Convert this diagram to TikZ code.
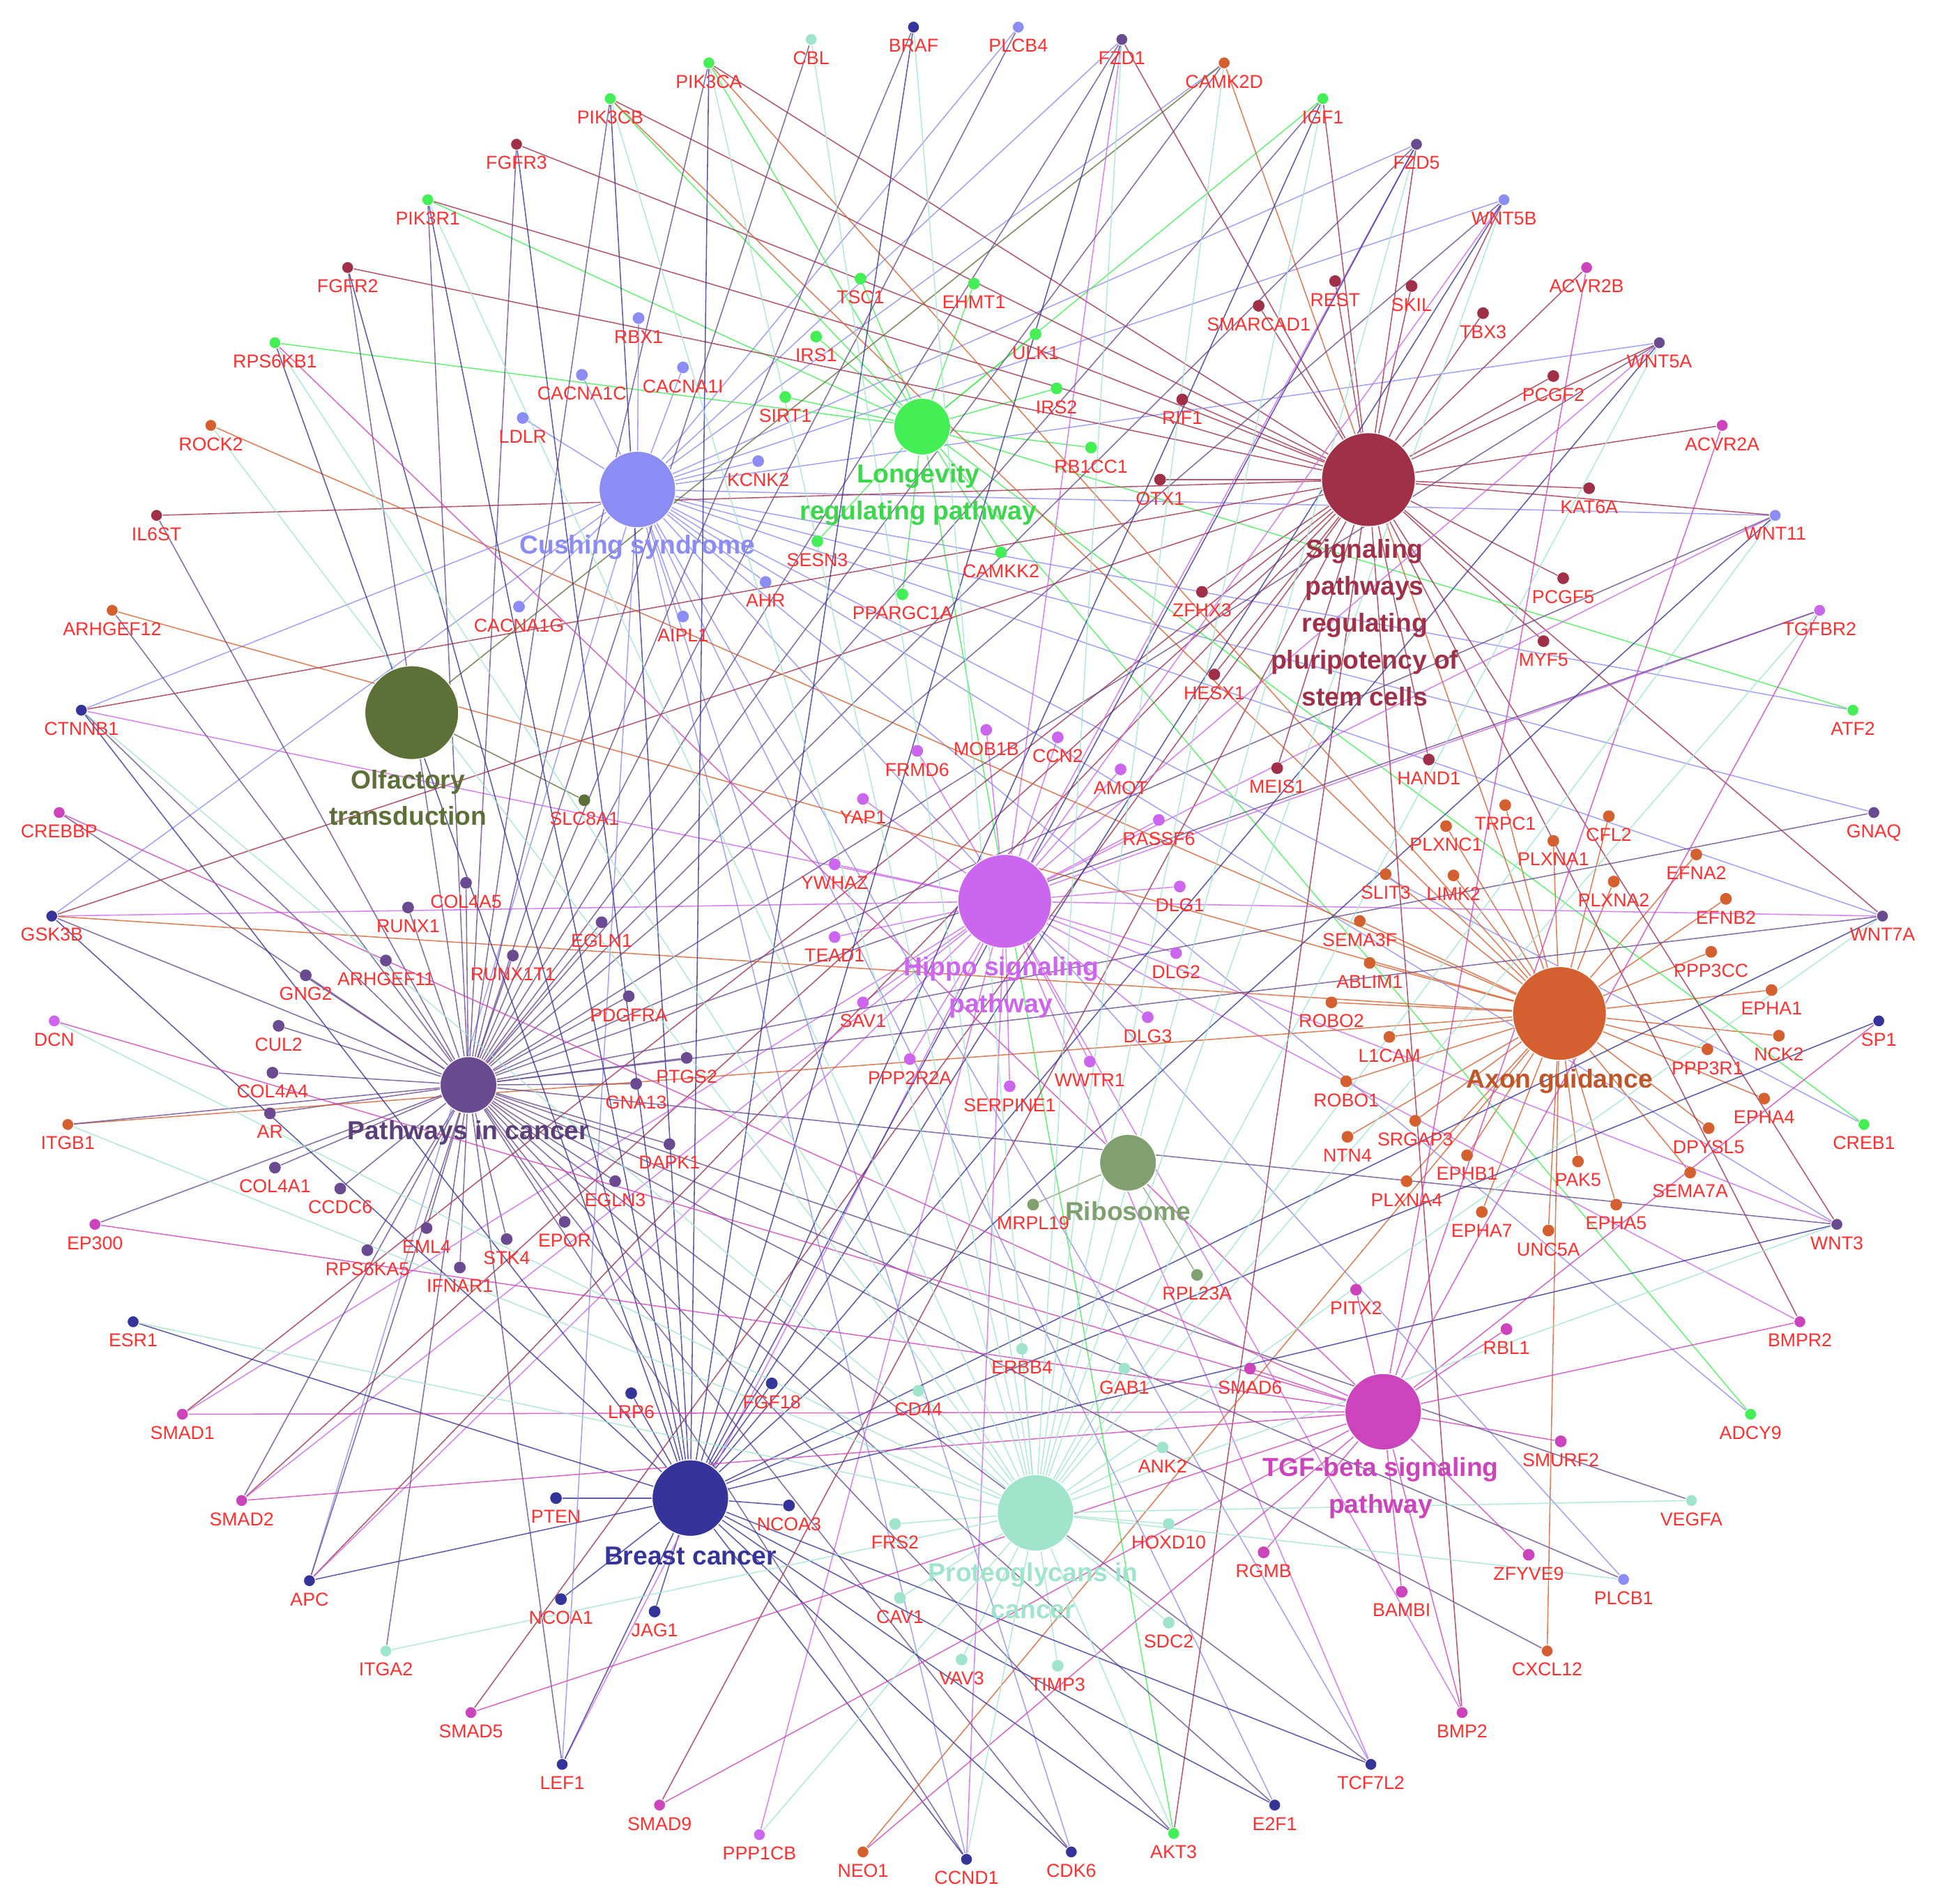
\documentclass[tikz,border=0pt]{standalone}
\usepackage{fontspec}
\setmainfont{Liberation Sans}
\pgfdeclarelayer{bg}
\pgfsetlayers{bg,main}
\definecolor{cushC}{HTML}{8C8CF5}
\definecolor{longC}{HTML}{44EE55}
\definecolor{pluriC}{HTML}{A03048}
\definecolor{olfC}{HTML}{5C7038}
\definecolor{hippoC}{HTML}{CC66EE}
\definecolor{axonC}{HTML}{D4602F}
\definecolor{cancC}{HTML}{6A4A90}
\definecolor{riboC}{HTML}{80A070}
\definecolor{tgfC}{HTML}{CC44BB}
\definecolor{breastC}{HTML}{34349A}
\definecolor{protC}{HTML}{A0E4CC}
\definecolor{labred}{HTML}{FF3030}

\begin{document}
\begin{tikzpicture}
  [x=0.02cm,y=-0.02cm,
   hub/.style={circle,inner sep=0pt,draw=white,line width=0.4pt},
   gene/.style={circle,inner sep=0pt,minimum size=0.19cm},
   outer/.style={circle,inner sep=0pt,minimum size=0.19cm,draw=white,line width=0.3pt},
   gname/.style={text=labred,font=\fontsize{8.6}{9}\selectfont,inner sep=0.5pt,label distance=2pt},
   hubname/.style={font=\bfseries\fontsize{12}{17}\selectfont,align=center,inner sep=0pt},
   edge/.style={line width=0.5pt,opacity=0.8},
   cushE/.style={edge,cushC},
   longE/.style={edge,longC},
   pluriE/.style={edge,pluriC},
   olfE/.style={edge,olfC},
   hippoE/.style={edge,hippoC},
   axonE/.style={edge,axonC},
   cancE/.style={edge,cancC},
   riboE/.style={edge,riboC},
   tgfE/.style={edge,tgfC},
   breastE/.style={edge,breastC},
   protE/.style={edge,protC}]
  \useasboundingbox (0,0) rectangle (1568,1544);

  % the pathways
  \node[hub,fill=cushC,minimum size=1.24cm] (cush) at (517,397) {};
  \node[hub,fill=longC,minimum size=0.92cm] (long) at (748,346) {};
  \node[hub,fill=pluriC,minimum size=1.52cm] (pluri) at (1110,389) {};
  \node[hub,fill=olfC,minimum size=1.52cm] (olf) at (334,578) {};
  \node[hub,fill=hippoC,minimum size=1.52cm] (hippo) at (815,731) {};
  \node[hub,fill=axonC,minimum size=1.52cm] (axon) at (1265,822) {};
  \node[hub,fill=cancC,minimum size=0.92cm] (canc) at (380,880) {};
  \node[hub,fill=riboC,minimum size=0.92cm] (ribo) at (915,943) {};
  \node[hub,fill=tgfC,minimum size=1.24cm] (tgf) at (1122,1145) {};
  \node[hub,fill=breastC,minimum size=1.24cm] (breast) at (560,1215) {};
  \node[hub,fill=protC,minimum size=1.24cm] (prot) at (840,1227) {};

  % genes of one pathway only
  \foreach \g/\x/\y in {RBX1/518/258,CACNA1C/472/304,CACNA1I/554/298,LDLR/424/339,
      KCNK2/615/374,AHR/621/472,AIPL1/554/500,CACNA1G/421/492}{
    \node[gene,fill=cushC] (\g) at (\x,\y) [label={[gname]below:\g}] {};
    \begin{pgfonlayer}{bg}\draw[cushE] (cush) -- (\g);\end{pgfonlayer}}
  \foreach \g/\x/\y in {TSC1/698/226,EHMT1/790/230,IRS1/662/273,ULK1/840/271,SIRT1/637/322,
      IRS2/857/315,RB1CC1/885/363,SESN3/663/439,CAMKK2/812/448,PPARGC1A/732/482}{
    \node[gene,fill=longC] (\g) at (\x,\y) [label={[gname]below:\g}] {};
    \begin{pgfonlayer}{bg}\draw[longE] (long) -- (\g);\end{pgfonlayer}}
  \foreach \g/\x/\y in {REST/1083/228,SKIL/1145/232,SMARCAD1/1021/248,TBX3/1203/254,
      PCGF2/1260/305,RIF1/959/324,OTX1/941/389,KAT6A/1289/396,PCGF5/1268/469,ZFHX3/975/480,
      MYF5/1252/520,HESX1/985/547,MEIS1/1036/623,HAND1/1159/616}{
    \node[gene,fill=pluriC] (\g) at (\x,\y) [label={[gname]below:\g}] {};
    \begin{pgfonlayer}{bg}\draw[pluriE] (pluri) -- (\g);\end{pgfonlayer}}
  \foreach \g/\x/\y in {SLC8A1/474/649}{
    \node[gene,fill=olfC] (\g) at (\x,\y) [label={[gname]below:\g}] {};
    \begin{pgfonlayer}{bg}\draw[olfE] (olf) -- (\g);\end{pgfonlayer}}
  \foreach \g/\x/\y in {MOB1B/800/592,CCN2/858/598,FRMD6/744/609,AMOT/909/624,YAP1/700/648,
      RASSF6/940/665,YWHAZ/677/701,DLG1/957/719,TEAD1/677/760,DLG2/954/773,SAV1/700/813,
      DLG3/931/825,PPP2R2A/738/859,WWTR1/884/861,SERPINE1/819/881}{
    \node[gene,fill=hippoC] (\g) at (\x,\y) [label={[gname]below:\g}] {};
    \begin{pgfonlayer}{bg}\draw[hippoE] (hippo) -- (\g);\end{pgfonlayer}}
  \foreach \g/\x/\y in {TRPC1/1221/653,CFL2/1305/662,PLXNC1/1173/670,PLXNA1/1260/682,
      EFNA2/1376/693,SLIT3/1124/709,LIMK2/1179/710,PLXNA2/1309/715,EFNB2/1400/729,
      SEMA3F/1103/747,PPP3CC/1388/772,ABLIM1/1111/781,EPHA1/1437/803,ROBO2/1080/813,
      L1CAM/1127/841,NCK2/1443/840,PPP3R1/1385/851,ROBO1/1092/877,EPHA4/1431/891,
      SRGAP3/1148/909,DPYSL5/1386/915,NTN4/1093/922,EPHB1/1190/937,PAK5/1280/942,
      SEMA7A/1371/951,PLXNA4/1141/958,EPHA7/1202/983,EPHA5/1311/977,UNC5A/1256/998}{
    \node[gene,fill=axonC] (\g) at (\x,\y) [label={[gname]below:\g}] {};
    \begin{pgfonlayer}{bg}\draw[axonE] (axon) -- (\g);\end{pgfonlayer}}
  \foreach \g/\x/\y in {COL4A5/378/716,RUNX1/331/736,EGLN1/488/748,ARHGEF11/313/779,
      GNG2/248/791,RUNX1T1/416/775,PDGFRA/510/808,CUL2/226/832,PTGS2/557/858,COL4A4/221/870,
      GNA13/516/879,AR/219/903,DAPK1/543/928,COL4A1/223/947,CCDC6/276/964,EGLN3/499/958,
      EPOR/458/991,EML4/346/996,STK4/411/1005,RPS6KA5/298/1014,IFNAR1/373/1028}{
    \node[gene,fill=cancC] (\g) at (\x,\y) [label={[gname]below:\g}] {};
    \begin{pgfonlayer}{bg}\draw[cancE] (canc) -- (\g);\end{pgfonlayer}}
  \foreach \g/\x/\y in {MRPL19/838/977,RPL23A/971/1034}{
    \node[gene,fill=riboC] (\g) at (\x,\y) [label={[gname]below:\g}] {};
    \begin{pgfonlayer}{bg}\draw[riboE] (ribo) -- (\g);\end{pgfonlayer}}
  \foreach \g/\x/\y in {PITX2/1100/1046,RBL1/1222/1078,SMAD6/1014/1110,SMURF2/1266/1169,
      RGMB/1025/1259,ZFYVE9/1240/1261,BAMBI/1137/1291}{
    \node[gene,fill=tgfC] (\g) at (\x,\y) [label={[gname]below:\g}] {};
    \begin{pgfonlayer}{bg}\draw[tgfE] (tgf) -- (\g);\end{pgfonlayer}}
  \foreach \g/\x/\y in {LRP6/512/1130,FGF18/626/1122,PTEN/451/1215,NCOA3/640/1221,
      NCOA1/455/1297,JAG1/531/1307}{
    \node[gene,fill=breastC] (\g) at (\x,\y) [label={[gname]below:\g}] {};
    \begin{pgfonlayer}{bg}\draw[breastE] (breast) -- (\g);\end{pgfonlayer}}
  \foreach \g/\x/\y in {ERBB4/829/1094,CD44/745/1128,GAB1/912/1110,ANK2/943/1174,
      FRS2/726/1236,HOXD10/948/1236,CAV1/730/1296,SDC2/948/1316,VAV3/780/1346,TIMP3/858/1351}{
    \node[gene,fill=protC] (\g) at (\x,\y) [label={[gname]below:\g}] {};
    \begin{pgfonlayer}{bg}\draw[protE] (prot) -- (\g);\end{pgfonlayer}}

  % genes shared by several pathways
  \foreach \g/\x/\y/\c in {BRAF/741/22/breastC,PLCB4/826/22/cushC,FZD1/910/32/cancC,
      CAMK2D/993/51/axonC,IGF1/1073/80/longC,FZD5/1149/117/cancC,WNT5B/1220/162/cushC,
      ACVR2B/1287/217/tgfC,WNT5A/1346/278/cancC,ACVR2A/1397/345/tgfC,WNT11/1440/418/cushC,
      TGFBR2/1476/495/hippoC,ATF2/1503/576/longC,GNAQ/1520/659/cancC,WNT7A/1527/743/cancC,
      SP1/1524/828/breastC,CREB1/1512/912/longC,WNT3/1490/993/cancC,BMPR2/1460/1072/tgfC,
      ADCY9/1420/1147/longC,VEGFA/1372/1217/protC,PLCB1/1317/1281/cushC,CXCL12/1255/1339/axonC,
      BMP2/1186/1389/tgfC,TCF7L2/1112/1431/breastC,E2F1/1034/1464/breastC,AKT3/952/1487/longC,
      CDK6/869/1502/breastC,CCND1/784/1508/breastC,NEO1/700/1502/axonC,PPP1CB/616/1488/hippoC,
      SMAD9/535/1464/tgfC,LEF1/456/1431/breastC,SMAD5/382/1389/tgfC,ITGA2/313/1339/protC,
      APC/251/1282/breastC,SMAD2/196/1217/tgfC,SMAD1/148/1147/tgfC,ESR1/108/1072/breastC,
      EP300/77/993/tgfC,ITGB1/55/912/axonC,DCN/44/828/hippoC,GSK3B/42/743/breastC,
      CREBBP/48/659/tgfC,CTNNB1/66/576/breastC,ARHGEF12/91/495/axonC,IL6ST/127/418/pluriC,
      ROCK2/171/345/axonC,RPS6KB1/223/278/longC,FGFR2/282/217/pluriC,PIK3R1/347/162/longC,
      FGFR3/419/117/pluriC,PIK3CB/495/80/longC,PIK3CA/575/51/longC,CBL/658/32/protC}
    \node[outer,fill=\c] (\g) at (\x,\y) [label={[gname]below:\g}] {};

  \begin{pgfonlayer}{bg}
    \foreach \g in {PLCB4,FZD1,CAMK2D,FZD5,WNT5B,WNT5A,WNT11,ATF2,GNAQ,WNT7A,CREB1,WNT3,
        ADCY9,PLCB1,TCF7L2,E2F1,CDK6,CCND1,LEF1,APC,CTNNB1,GSK3B}
      \draw[cushE] (cush) -- (\g);
    \foreach \g in {IGF1,PIK3CA,PIK3CB,PIK3R1,AKT3,RPS6KB1,ADCY9,CREB1,ATF2}
      \draw[longE] (long) -- (\g);
    \foreach \g in {FZD1,FZD5,WNT5B,WNT5A,WNT11,WNT7A,WNT3,ACVR2B,ACVR2A,BMPR2,BMP2,IGF1,
        AKT3,PIK3CA,PIK3CB,PIK3R1,FGFR2,FGFR3,SMAD9,SMAD5,SMAD2,SMAD1,APC,CTNNB1,GSK3B,IL6ST}
      \draw[pluriE] (pluri) -- (\g);
    \foreach \g in {CAMK2D}
      \draw[olfE] (olf) -- (\g);
    \foreach \g in {FZD1,FZD5,WNT5B,WNT5A,WNT11,WNT7A,WNT3,TGFBR2,BMPR2,BMP2,SMAD2,SMAD1,
        APC,GSK3B,CTNNB1,TCF7L2,LEF1,CCND1,PPP1CB}
      \draw[hippoE] (hippo) -- (\g);
    \foreach \g in {CAMK2D,CXCL12,NEO1,ITGB1,GSK3B,ARHGEF12,ROCK2,PIK3CA,PIK3CB}
      \draw[axonE] (axon) -- (\g);
    \foreach \g in {BRAF,PLCB4,FZD1,CAMK2D,IGF1,FZD5,WNT5B,WNT5A,WNT11,TGFBR2,GNAQ,WNT7A,
        WNT3,VEGFA,PLCB1,CXCL12,TCF7L2,E2F1,AKT3,CDK6,CCND1,LEF1,ITGA2,APC,SMAD2,EP300,
        ITGB1,GSK3B,CREBBP,CTNNB1,ARHGEF12,IL6ST,FGFR2,PIK3R1,FGFR3,PIK3CB,PIK3CA,CBL}
      \draw[cancE] (canc) -- (\g);
    \foreach \g in {BRAF,FZD1,IGF1,FZD5,WNT5B,WNT5A,WNT11,WNT7A,WNT3,SP1,TCF7L2,E2F1,AKT3,
        CDK6,CCND1,LEF1,APC,ESR1,GSK3B,CTNNB1,FGFR2,PIK3R1,FGFR3,PIK3CB,PIK3CA,RPS6KB1}
      \draw[breastE] (breast) -- (\g);
    \foreach \g in {ACVR2B,ACVR2A,TGFBR2,SP1,BMPR2,BMP2,NEO1,SMAD9,SMAD5,SMAD2,SMAD1,EP300,
        DCN,CREBBP,RPS6KB1}
      \draw[tgfE] (tgf) -- (\g);
    \foreach \g in {BRAF,FZD1,CAMK2D,IGF1,FZD5,WNT5B,WNT5A,WNT11,WNT7A,WNT3,TGFBR2,VEGFA,
        PLCB1,ESR1,ITGB1,DCN,CTNNB1,ROCK2,PIK3R1,PIK3CB,PIK3CA,AKT3,RPS6KB1,CBL,PPP1CB,
        CCND1,ITGA2}
      \draw[protE] (prot) -- (\g);
  \end{pgfonlayer}

  % pathway names
  \node[hubname,text=cushC] (cushname) at (517,444) {Cushing syndrome};
  \node[hubname,text=longC!90!black] (longname) at (745,401) {Longevity\\regulating pathway};
  \node[hubname,text=pluriC] (pluriname) at (1107,505)
    {Signaling\\pathways\\regulating\\pluripotency of\\stem cells};
  \node[hubname,text=olfC] (olfname) at (331,647) {Olfactory\\transduction};
  \node[hubname,text=hippoC] (hipponame) at (812,801) {Hippo signaling\\pathway};
  \node[hubname,text=axonC!90!black] (axonname) at (1265,877) {Axon guidance};
  \node[hubname,text=cancC!85!black] (cancname) at (380,919) {Pathways in cancer};
  \node[hubname,text=riboC] (riboname) at (915,982) {Ribosome};
  \node[hubname,text=tgfC] (tgfname) at (1120,1207) {TGF-beta signaling\\pathway};
  \node[hubname,text=breastC] (breastname) at (560,1262) {Breast cancer};
  \node[hubname,text=protC] (protname) at (838,1290) {Proteoglycans in\\cancer};
\end{tikzpicture}
\end{document}
